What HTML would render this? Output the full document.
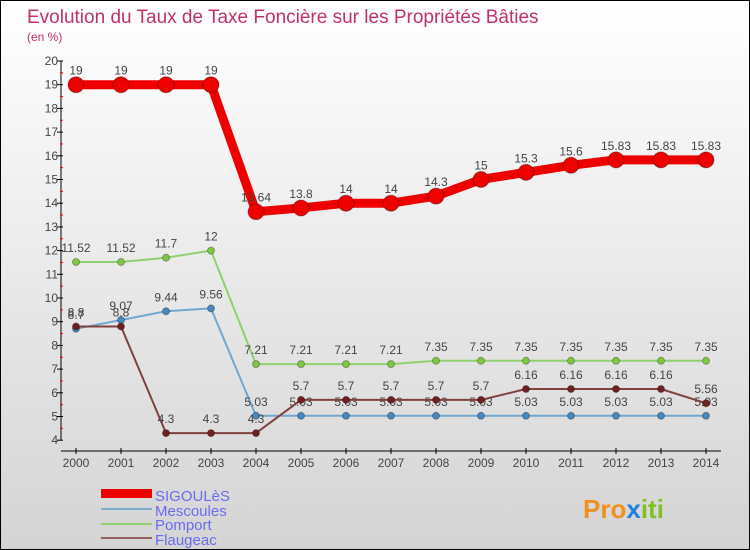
<!DOCTYPE html>
<html><head><meta charset="utf-8"><style>
body{margin:0}
#c{width:748px;height:548px;border:1px solid #000;background:linear-gradient(#fff,#d4d4d4);position:relative;font-family:"Liberation Sans",sans-serif;overflow:hidden}
</style></head><body>
<div id="c">
<svg id="s" width="748" height="548">
<text x="26" y="22" font-size="19" fill="#c0306a">Evolution du Taux de Taxe Foncière sur les Propriétés Bâties</text>
<text x="26" y="40" font-size="12" fill="#c0306a">(en %)</text>
<g id="axes"></g><g id="series"></g>
<g>
<rect x="100" y="488" width="51" height="9" fill="#e00"/>
<text x="154" y="500" font-size="15" fill="#6b6bf0">SIGOULèS</text>
<rect x="100" y="507" width="51" height="2" fill="#7aaccc"/>
<text x="154" y="515" font-size="15" fill="#6b6bf0">Mescoules</text>
<rect x="100" y="522" width="51" height="2" fill="#90d070"/>
<text x="154" y="529" font-size="15" fill="#6b6bf0">Pomport</text>
<rect x="100" y="536" width="51" height="2" fill="#956060"/>
<text x="154" y="544" font-size="15" fill="#6b6bf0">Flaugeac</text>
</g>
<text x="582" y="517" font-size="26" font-weight="bold" fill="#f09020">Pro<tspan fill="#2080e0">x</tspan><tspan fill="#80c020">iti</tspan></text>
</svg>
</div>
<script>
const years=[2000,2001,2002,2003,2004,2005,2006,2007,2008,2009,2010,2011,2012,2013,2014];
const sigoules=[19,19,19,19,13.64,13.8,14,14,14.3,15,15.3,15.6,15.83,15.83,15.83];
const sigLabels=["19","19","19","19","13.64","13.8","14","14","14.3","15","15.3","15.6","15.83","15.83","15.83"];
const mescoules=[8.7,9.07,9.44,9.56,5.03,5.03,5.03,5.03,5.03,5.03,5.03,5.03,5.03,5.03,5.03];
const pomport=[11.52,11.52,11.7,12,7.21,7.21,7.21,7.21,7.35,7.35,7.35,7.35,7.35,7.35,7.35];
const flaugeac=[8.8,8.8,4.3,4.3,4.3,5.7,5.7,5.7,5.7,5.7,6.16,6.16,6.16,6.16,5.56];
const yTicks=[4,5,6,7,8,9,10,11,12,13,14,15,16,17,18,19,20];
const NS="http://www.w3.org/2000/svg";
const X=y=>75+(y-2000)*45, Y=v=>60+(20-v)*23.7;
function mk(t,a,p){const e=document.createElementNS(NS,t);for(const k in a)e.setAttribute(k,a[k]);p.appendChild(e);return e;}
const ax=document.getElementById('axes'),sr=document.getElementById('series');
const yl=mk('line',{x1:60,y1:Y(20),x2:60,y2:Y(4),stroke:'#000'},ax);

const xl=mk('line',{x1:60,y1:450,x2:720,y2:450,stroke:'#000'},ax);

yTicks.forEach(v=>{mk('line',{x1:56,x2:62,y1:Y(v),y2:Y(v),stroke:'#000'},ax);
 if(v<20)mk('line',{x1:59,x2:62,y1:Y(v+0.5),y2:Y(v+0.5),stroke:'#e00'},ax);
 const t=mk('text',{x:57,y:Y(v)+4,'font-size':12,'text-anchor':'end',fill:'#444'},ax);t.textContent=v;
 });
years.forEach(y=>{mk('line',{x1:X(y),x2:X(y),y1:447,y2:453,stroke:'#000'},ax);
 const t=mk('text',{x:X(y),y:466,'font-size':12,'text-anchor':'middle',fill:'#444'},ax);t.textContent=y;
 });
function series(vals,labels,col,dot,w,r,name){
 const g=mk('g',{},sr);
 mk('polyline',{points:vals.map((v,i)=>X(years[i])+','+Y(v)).join(' '),fill:'none',stroke:col,'stroke-width':w,'stroke-linejoin':'round'},g);
 vals.forEach((v,i)=>{const c=mk('circle',{cx:X(years[i]),cy:Y(v),r:r,fill:dot,stroke:'rgba(0,0,0,0.3)'},g);
  
  const t=mk('text',{x:X(years[i]),y:Y(v)-10,'font-size':12,'text-anchor':'middle',fill:'#444'},g);
  t.textContent=labels?labels[i]:String(v);
  });
}
series(pomport,null,'#90d070','#80c840',2,3.5,'pomport');
series(mescoules,null,'#70a8d0','#4888c0',2,3.5,'mescoules');
series(flaugeac,null,'#804040','#702020',2,3.5,'flaugeac');
series(sigoules,sigLabels,'#e00','#e00',9,8,'sigoules');
</script>
</body></html>
